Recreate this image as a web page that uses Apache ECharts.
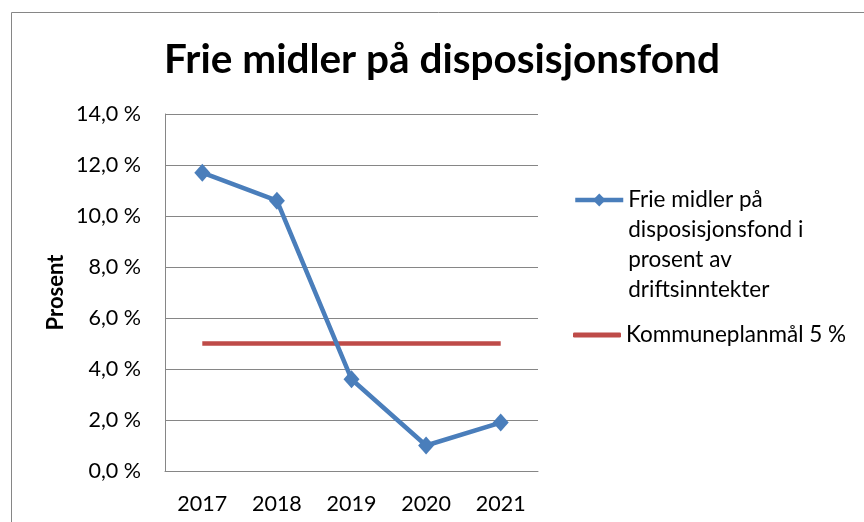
<!DOCTYPE html>
<html>
<head>
<meta charset="utf-8">
<script src="https://cdn.jsdelivr.net/npm/echarts@6/dist/echarts.min.js"></script>
<style>
  html, body { margin: 0; padding: 0; background: #fff; }
  #chart { width: 864px; height: 522px; }
</style>
</head>
<body>
<div id="chart"></div>
<script>
var years = ['2017', '2018', '2019', '2020', '2021'];
var frieMidler = [11.7, 10.6, 3.6, 1.0, 1.9];
var maal = [5, 5, 5, 5, 5];
var seriesNames = ['Frie midler på disposisjonsfond i prosent av driftsinntekter', 'Kommuneplanmål 5 %'];
// the blank lines keep the legend icon level with the first text line
var legendLabels = ['\n\n\nFrie midler på\ndisposisjonsfond i\nprosent av\ndriftsinntekter', 'Kommuneplanmål 5 %'];

var font = 'Lato';
var grey = '#868686';

var myChart = echarts.init(document.getElementById('chart'));
var option = {
  backgroundColor: '#fff',
  animation: false,
  title: {
    text: 'Frie midler på disposisjonsfond',
    left: 437,
    textAlign: 'center',
    top: 34,
    textStyle: { fontFamily: font, fontSize: 40.5, fontWeight: 'bold', color: '#000' }
  },
  graphic: [{
    type: 'rect',
    shape: { x: 11.5, y: 12.5, width: 900, height: 600 },
    style: { fill: 'none', stroke: grey, lineWidth: 1 },
    silent: true
  }],
  legend: [{
    data: [seriesNames[0]],
    left: 573,
    top: 95,
    padding: 0,
    itemWidth: 48,
    itemHeight: 16,
    lineStyle: { width: 4.5 },
    formatter: function () { return legendLabels[0]; },
    textStyle: { fontFamily: font, fontSize: 22.5, lineHeight: 30, color: '#000' }
  }, {
    data: [{ name: seriesNames[1], icon: 'roundRect' }],
    left: 573,
    top: 320,
    padding: 0,
    itemWidth: 48,
    itemHeight: 5,
    formatter: function () { return legendLabels[1]; },
    textStyle: { fontFamily: font, fontSize: 22.5, lineHeight: 30, color: '#000' }
  }],
  grid: { left: 165, right: 326, top: 114, bottom: 51 },
  xAxis: {
    type: 'category',
    data: years,
    boundaryGap: true,
    axisLine: { lineStyle: { color: grey, width: 1 } },
    axisTick: { show: false },
    axisLabel: { fontFamily: font, fontSize: 21.5, color: '#000', margin: 22 }
  },
  yAxis: {
    type: 'value',
    min: 0,
    max: 14,
    interval: 2,
    name: 'Prosent',
    nameLocation: 'middle',
    nameGap: 98,
    nameRotate: 90,
    nameTextStyle: { fontFamily: font, fontSize: 22, fontWeight: 'bold', color: '#000' },
    axisLine: { show: true, lineStyle: { color: grey, width: 1 } },
    axisTick: { show: false },
    splitLine: { lineStyle: { color: grey, width: 1 } },
    axisLabel: {
      fontFamily: font, fontSize: 21.5, color: '#000', margin: 24,
      formatter: function (v) { return v.toFixed(1).replace('.', ',') + ' %'; }
    }
  },
  series: [{
    name: seriesNames[0],
    type: 'line',
    data: frieMidler,
    symbol: 'diamond',
    symbolSize: [16, 18],
    color: '#4A7EBB',
    lineStyle: { width: 4.5, color: '#4A7EBB' },
    itemStyle: { color: '#4A7EBB' },
    z: 3
  }, {
    name: seriesNames[1],
    type: 'line',
    data: maal,
    symbol: 'none',
    color: '#BE4B48',
    lineStyle: { width: 4.5, color: '#BE4B48' },
    z: 2
  }]
};
myChart.setOption(option);
</script>
</body>
</html>
